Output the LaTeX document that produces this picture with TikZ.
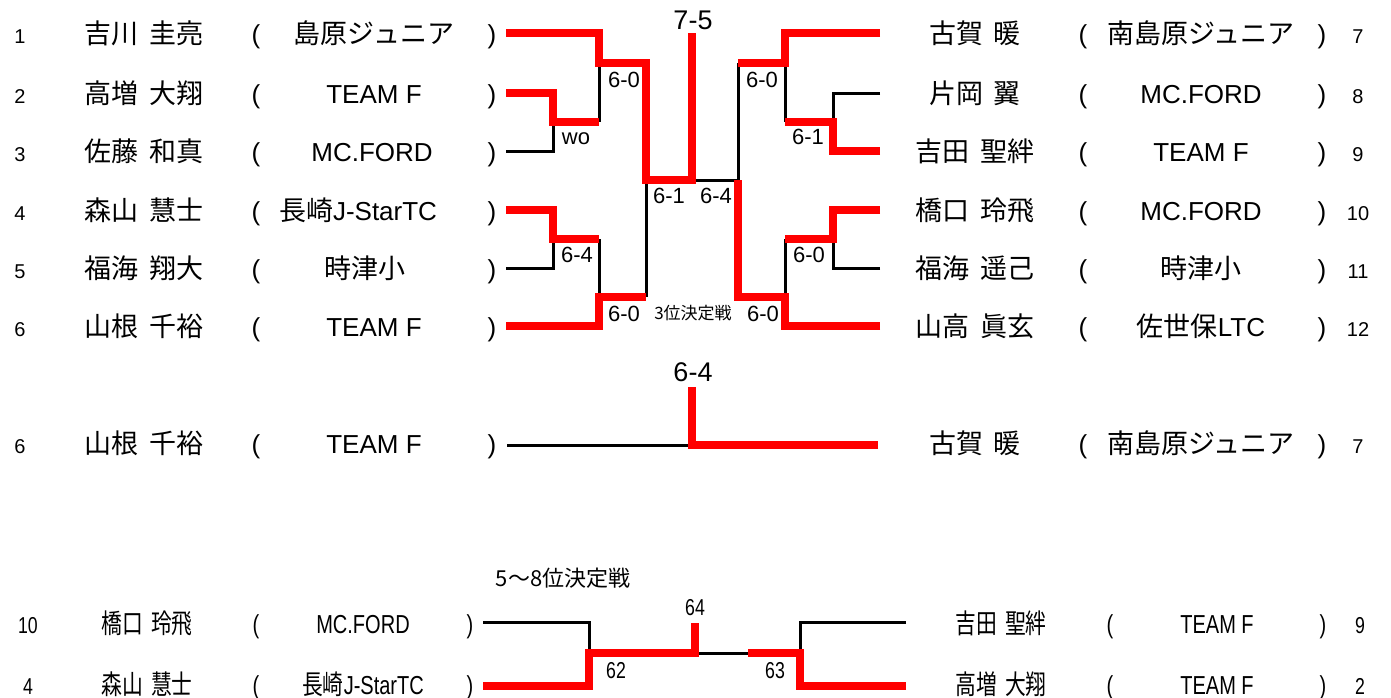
\documentclass[tikz,border=0pt]{standalone}
\usepackage{fontspec}
\setmainfont{Liberation Sans}
\newfontfamily\jp[WordSpace=1.8]{Noto Sans CJK JP}
\newcommand\jt[1]{{\jp\fontsize{27}{32}\selectfont #1}}
\tikzset{
  basetxt/.style={inner sep=0pt, outer sep=0pt, anchor=base},
  rownum/.style={basetxt, font=\fontsize{20}{24}\selectfont},
  pname/.style={basetxt, font=\jp\fontsize{27}{32}\selectfont},
  team/.style={basetxt, font=\fontsize{26}{31}\selectfont},
  paren/.style={basetxt, font=\fontsize{26}{31}\selectfont},
  score/.style={inner sep=0pt, outer sep=0pt, font=\fontsize{22}{26}\selectfont},
  bigscore/.style={inner sep=0pt, outer sep=0pt, font=\fontsize{27}{32}\selectfont},
  narrowtxt/.style={xscale=0.77},
  win/.style={draw=red, line width=8pt},
  lose/.style={draw=black, line width=3pt},
}
\begin{document}
\begin{tikzpicture}[x=1pt,y=-1pt]
\useasboundingbox (0,0) rectangle (1391,697);

% ---------- left side rows ----------
\node[rownum] (ln1) at (20,43) {1};
\node[pname]  (lp1) at (144,43) {吉川 圭亮};
\node[paren]  (lo1) at (256,43) {(};
\node[team]   (lt1) at (374,43) {\jt{島原ジュニア}};
\node[paren]  (lc1) at (492,43) {)};

\node[rownum] (ln2) at (20,103) {2};
\node[pname]  (lp2) at (144,103) {高増 大翔};
\node[paren]  (lo2) at (256,103) {(};
\node[team]   (lt2) at (374,103) {TEAM F};
\node[paren]  (lc2) at (492,103) {)};

\node[rownum] (ln3) at (20,161) {3};
\node[pname]  (lp3) at (144,161) {佐藤 和真};
\node[paren]  (lo3) at (256,161) {(};
\node[team]   (lt3) at (372,161) {MC.FORD};
\node[paren]  (lc3) at (492,161) {)};

\node[rownum] (ln4) at (20,220) {4};
\node[pname]  (lp4) at (144,220) {森山 慧士};
\node[paren]  (lo4) at (256,220) {(};
\node[team]   (lt4) at (358,220) {\jt{長崎}J-StarTC};
\node[paren]  (lc4) at (492,220) {)};

\node[rownum] (ln5) at (20,278) {5};
\node[pname]  (lp5) at (144,278) {福海 翔大};
\node[paren]  (lo5) at (256,278) {(};
\node[team]   (lt5) at (365,278) {\jt{時津小}};
\node[paren]  (lc5) at (492,278) {)};

\node[rownum] (ln6) at (20,336) {6};
\node[pname]  (lp6) at (144,336) {山根 千裕};
\node[paren]  (lo6) at (256,336) {(};
\node[team]   (lt6) at (374,336) {TEAM F};
\node[paren]  (lc6) at (492,336) {)};

% ---------- right side rows ----------
\node[pname]  (rp7) at (975,43) {古賀 暖};
\node[paren]  (ro7) at (1083,43) {(};
\node[team]   (rt7) at (1201,43) {\jt{南島原ジュニア}};
\node[paren]  (rc7) at (1322,43) {)};
\node[rownum] (rn7) at (1358,43) {7};

\node[pname]  (rp8) at (975,103) {片岡 翼};
\node[paren]  (ro8) at (1083,103) {(};
\node[team]   (rt8) at (1201,103) {MC.FORD};
\node[paren]  (rc8) at (1322,103) {)};
\node[rownum] (rn8) at (1358,103) {8};

\node[pname]  (rp9) at (975,161) {吉田 聖絆};
\node[paren]  (ro9) at (1083,161) {(};
\node[team]   (rt9) at (1201,161) {TEAM F};
\node[paren]  (rc9) at (1322,161) {)};
\node[rownum] (rn9) at (1358,161) {9};

\node[pname]  (rp10) at (975,220) {橋口 玲飛};
\node[paren]  (ro10) at (1083,220) {(};
\node[team]   (rt10) at (1201,220) {MC.FORD};
\node[paren]  (rc10) at (1322,220) {)};
\node[rownum] (rn10) at (1358,220) {10};

\node[pname]  (rp11) at (975,278) {福海 遥己};
\node[paren]  (ro11) at (1083,278) {(};
\node[team]   (rt11) at (1201,278) {\jt{時津小}};
\node[paren]  (rc11) at (1322,278) {)};
\node[rownum] (rn11) at (1358,278) {11};

\node[pname]  (rp12) at (975,336) {山高 眞玄};
\node[paren]  (ro12) at (1083,336) {(};
\node[team]   (rt12) at (1201,336) {\jt{佐世保}LTC};
\node[paren]  (rc12) at (1322,336) {)};
\node[rownum] (rn12) at (1358,336) {12};

% ---------- third place row ----------
\node[rownum] (mn6) at (20,453) {6};
\node[pname]  (mp6) at (144,453) {山根 千裕};
\node[paren]  (mo6) at (256,453) {(};
\node[team]   (mt6) at (374,453) {TEAM F};
\node[paren]  (mc6) at (492,453) {)};

\node[pname]  (mp7) at (975,453) {古賀 暖};
\node[paren]  (mo7) at (1083,453) {(};
\node[team]   (mt7) at (1201,453) {\jt{南島原ジュニア}};
\node[paren]  (mc7) at (1322,453) {)};
\node[rownum] (mn7) at (1358,453) {7};

% ---------- 5-8 rows ----------
\node[rownum, narrowtxt, font=\fontsize{23}{27}\selectfont] (bn10) at (28,633) {10};
\node[pname, narrowtxt]  (bp10) at (147,633) {橋口 玲飛};
\node[paren, narrowtxt]  (bo10) at (256,633) {(};
\node[team, narrowtxt]   (bt10) at (363,633) {MC.FORD};
\node[paren, narrowtxt]  (bc10) at (470,633) {)};

\node[rownum, narrowtxt, font=\fontsize{23}{27}\selectfont] (bn4) at (28,694) {4};
\node[pname, narrowtxt]  (bp4) at (147,694) {森山 慧士};
\node[paren, narrowtxt]  (bo4) at (256,694) {(};
\node[team, narrowtxt]   (bt4) at (363,694) {\jt{長崎}J-StarTC};
\node[paren, narrowtxt]  (bc4) at (470,694) {)};

\node[pname, narrowtxt]  (bp9) at (1001,633) {吉田 聖絆};
\node[paren, narrowtxt]  (bo9) at (1110,633) {(};
\node[team, narrowtxt]   (bt9) at (1217,633) {TEAM F};
\node[paren, narrowtxt]  (bc9) at (1323,633) {)};
\node[rownum, narrowtxt, font=\fontsize{23}{27}\selectfont] (bn9) at (1360,633) {9};

\node[pname, narrowtxt]  (bp2) at (1001,694) {高増 大翔};
\node[paren, narrowtxt]  (bo2) at (1110,694) {(};
\node[team, narrowtxt]   (bt2) at (1217,694) {TEAM F};
\node[paren, narrowtxt]  (bc2) at (1323,694) {)};
\node[rownum, narrowtxt, font=\fontsize{23}{27}\selectfont] (bn2) at (1360,694) {2};

% ---------- bracket line ends ----------
\coordinate (e1) at (506,33);
\coordinate (e2) at (506,93);
\coordinate (e3) at (506,151);
\coordinate (e4) at (506,210);
\coordinate (e5) at (506,268);
\coordinate (e6) at (506,326);
\coordinate (e7) at (880,33);
\coordinate (e8) at (880,93);
\coordinate (e9) at (880,151);
\coordinate (e10) at (880,210);
\coordinate (e11) at (880,268);
\coordinate (e12) at (880,326);
\coordinate (m6) at (507,445);
\coordinate (m7) at (878,445);
\coordinate (b10) at (483,622);
\coordinate (b4) at (483,686);
\coordinate (b9) at (906,622);
\coordinate (b2) at (906,686);

% ---------- losing (black) lines ----------
\draw[lose] (e3) -- (553,151) -- (553,122);
\draw[lose] (599,122) -- (599,63);
\draw[lose] (e5) -- (553,268) -- (553,239);
\draw[lose] (599,239) -- (599,297);
\draw[lose] (646,297) -- (646,180);
\draw[lose] (692,180) -- (738,180) -- (738,63);
\draw[lose] (785,63) -- (785,122);
\draw[lose] (e8) -- (833,93) -- (833,122);
\draw[lose] (785,297) -- (785,239);
\draw[lose] (e11) -- (833,268) -- (833,239);
\draw[lose] (m6) -- (692,445);
\draw[lose] (b10) -- (589,622) -- (589,653);
\draw[lose] (695,653) -- (748,653);
\draw[lose] (b9) -- (800,622) -- (800,653);

% ---------- winning (red) lines ----------
\draw[win] (e1) -- (599,33) -- (599,63) -- (646,63) -- (646,180) -- (692,180) -- (692,33);
\draw[win] (e2) -- (553,93) -- (553,122) -- (599,122);
\draw[win] (e4) -- (553,210) -- (553,239) -- (599,239);
\draw[win] (e6) -- (599,326) -- (599,297) -- (646,297);
\draw[win] (e7) -- (785,33) -- (785,63) -- (738,63);
\draw[win] (e9) -- (833,151) -- (833,122) -- (785,122);
\draw[win] (e10) -- (833,210) -- (833,239) -- (785,239);
\draw[win] (e12) -- (785,326) -- (785,297) -- (738,297) -- (738,180);
\draw[win] (m7) -- (692,445) -- (692,387);
\draw[win] (b4) -- (589,686) -- (589,653) -- (695,653) -- (695,623);
\draw[win] (b2) -- (800,686) -- (800,653) -- (748,653);

% ---------- scores ----------
\node[bigscore] (s75) at (693,20) {7-5};
\node[score] (swo) at (576,139) {wo};
\node[score] (s1) at (624,80) {6-0};
\node[score] (s2) at (762,80) {6-0};
\node[score] (s3) at (808,137) {6-1};
\node[score] (s4) at (669,196) {6-1};
\node[score] (s5) at (716,196) {6-4};
\node[score] (s6) at (577,255) {6-4};
\node[score] (s7) at (624,314) {6-0};
\node[score] (s8) at (763,314) {6-0};
\node[score] (s9) at (809,255) {6-0};
\node[inner sep=0pt, font=\jp\fontsize{17}{20}\selectfont] (third) at (693,313) {3位決定戦};
\node[bigscore] (s64a) at (693,372) {6-4};
\node[inner sep=0pt, font=\jp\fontsize{22}{26}\selectfont] (title58) at (563,578) {5～8位決定戦};
\node[score, narrowtxt, font=\fontsize{23}{27}\selectfont] (s64b) at (695,608) {64};
\node[score, narrowtxt, font=\fontsize{23}{27}\selectfont] (s62) at (616,671) {62};
\node[score, narrowtxt, font=\fontsize{23}{27}\selectfont] (s63) at (775,671) {63};
\end{tikzpicture}
\end{document}
